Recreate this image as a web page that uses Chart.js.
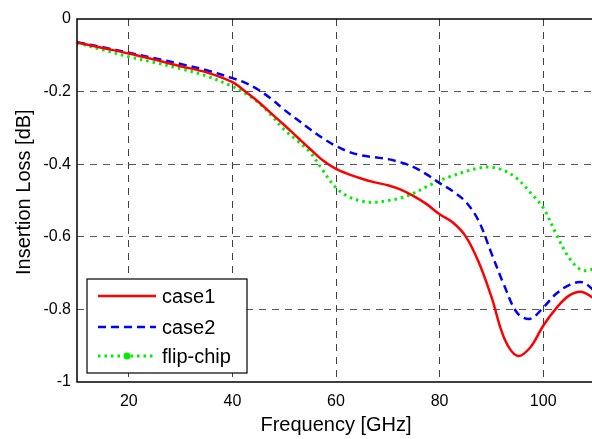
<!DOCTYPE html>
<html>
<head>
<meta charset="utf-8">
<script src="https://cdn.jsdelivr.net/npm/chart.js@4"></script>
<style>
  html, body { margin: 0; padding: 0; background: #fff; overflow: hidden; }
  #wrap { width: 600px; height: 439px; }
</style>
</head>
<body>
<div id="wrap"><canvas id="lossChart" width="600" height="439"></canvas></div>
<script>
// frequency grid [GHz]
const freq = [10, 15, 20, 25, 30, 35, 40, 42.5, 45, 47.5, 50, 52.5, 55, 57.5, 60, 62.5, 65, 67.5, 70, 72.5,
  75, 77.5, 80, 82.5, 85, 87.5, 90, 92.5, 95, 97.5, 100, 102.5, 105, 107.5, 110];

// insertion loss [dB]
const case1 = [-0.065, -0.08, -0.095, -0.112, -0.13, -0.147, -0.174, -0.2, -0.228, -0.26, -0.292, -0.325,
  -0.358, -0.39, -0.413, -0.428, -0.44, -0.45, -0.458, -0.47, -0.488, -0.51, -0.538, -0.56, -0.598, -0.668,
  -0.765, -0.88, -0.928, -0.905, -0.845, -0.797, -0.762, -0.752, -0.772];

const case2 = [-0.064, -0.078, -0.093, -0.108, -0.124, -0.141, -0.163, -0.176, -0.195, -0.22, -0.25, -0.277,
  -0.304, -0.329, -0.35, -0.366, -0.376, -0.381, -0.386, -0.395, -0.408, -0.428, -0.452, -0.474, -0.503,
  -0.555, -0.645, -0.735, -0.81, -0.826, -0.795, -0.757, -0.733, -0.725, -0.75];

const flipChip = [-0.066, -0.085, -0.104, -0.12, -0.137, -0.157, -0.186, -0.205, -0.23, -0.265, -0.305,
  -0.335, -0.367, -0.418, -0.465, -0.49, -0.502, -0.505, -0.5, -0.493, -0.48, -0.462, -0.445, -0.432,
  -0.42, -0.411, -0.408, -0.418, -0.44, -0.478, -0.52, -0.592, -0.658, -0.692, -0.688];

const seriesNames = ["case1", "case2", "flip-chip"];
const xTicks = [20, 40, 60, 80, 100];
const yTicks = [0, -0.2, -0.4, -0.6, -0.8, -1];

const FONT = "'Liberation Sans', Arial, Helvetica, sans-serif";

function pts(vals) {
    return freq.map((f, i) => ({ x: f, y: vals[i] }));
}

/* ===============================
   frame + legend box
=============================== */
const framePlugin = {
    id: "frame",
    afterDraw(chart) {
        const ctx = chart.ctx;
        const a = chart.chartArea;
        ctx.save();
        ctx.strokeStyle = "#000";
        ctx.lineWidth = 1.5;
        ctx.strokeRect(a.left, a.top, a.right - a.left, a.bottom - a.top);

        // legend
        const bx = 87, by = 279, bw = 160, bh = 94;
        ctx.fillStyle = "#fff";
        ctx.fillRect(bx, by, bw, bh);
        ctx.lineWidth = 1.2;
        ctx.strokeRect(bx, by, bw, bh);

        const rows = [296, 327, 356];
        chart.data.datasets.forEach((ds, i) => {
            const y = rows[i];
            ctx.beginPath();
            ctx.strokeStyle = ds.borderColor;
            ctx.lineWidth = ds.borderWidth;
            ctx.setLineDash(ds.borderDash || []);
            ctx.moveTo(98, y);
            ctx.lineTo(156, y);
            ctx.stroke();
            ctx.setLineDash([]);
            if (i === 2) {
                ctx.beginPath();
                ctx.fillStyle = ds.borderColor;
                ctx.arc(127, y, 3.5, 0, Math.PI * 2);
                ctx.fill();
            }
            ctx.fillStyle = "#000";
            ctx.font = "20px " + FONT;
            ctx.textBaseline = "middle";
            ctx.textAlign = "left";
            ctx.fillText(seriesNames[i], 162, y + 1);
        });
        ctx.restore();
    }
};

new Chart(document.getElementById("lossChart"), {
    type: "line",
    data: {
        datasets: [{
            label: seriesNames[0],
            data: pts(case1),
            borderColor: "#ff0000",
            borderWidth: 2.5,
            pointRadius: 0,
            tension: 0.35,
            fill: false
        }, {
            label: seriesNames[1],
            data: pts(case2),
            borderColor: "#0000ff",
            borderWidth: 2.5,
            borderDash: [8, 5],
            pointRadius: 0,
            tension: 0.35,
            fill: false
        }, {
            label: seriesNames[2],
            data: pts(flipChip),
            borderColor: "#00ee00",
            borderWidth: 3,
            borderDash: [2.5, 4],
            pointRadius: 0,
            tension: 0.35,
            fill: false
        }]
    },
    options: {
        responsive: false,
        animation: false,
        layout: { padding: { top: 19, right: 5, left: 0, bottom: 0 } },
        plugins: {
            legend: { display: false },
            tooltip: { enabled: false }
        },
        scales: {
            x: {
                type: "linear",
                min: 10,
                max: 110,
                afterBuildTicks: (s) => { s.ticks = xTicks.map(v => ({ value: v })); },
                afterFit: (s) => { s.height = 57; },
                grid: {
                    color: "rgba(0,0,0,0.75)",
                    lineWidth: 1,
                    drawTicks: false
                },
                border: { display: false, dash: [7, 6] },
                ticks: {
                    color: "#000",
                    font: { family: FONT, size: 16 },
                    padding: 10,
                    maxRotation: 0
                },
                title: {
                    display: true,
                    text: "Frequency [GHz]",
                    color: "#000",
                    font: { family: FONT, size: 20 },
                    padding: { top: 0, bottom: 2 }
                }
            },
            y: {
                min: -1,
                max: 0,
                afterBuildTicks: (s) => { s.ticks = yTicks.map(v => ({ value: v })); },
                afterFit: (s) => { s.width = 77; },
                grid: {
                    color: (c) => (c.tick && (c.tick.value === 0 || c.tick.value === -1)) ? "rgba(0,0,0,0)" : "rgba(0,0,0,0.65)",
                    lineWidth: 1,
                    drawTicks: false
                },
                border: { display: false, dash: [7, 6] },
                ticks: {
                    color: "#000",
                    font: { family: FONT, size: 16 },
                    padding: 6,
                    callback: (v) => String(Math.round(v * 10) / 10)
                },
                title: {
                    display: true,
                    text: "\u00a0\u00a0\u00a0Insertion Loss [dB]",
                    color: "#000",
                    font: { family: FONT, size: 20 },
                    padding: { top: 12, bottom: 0 }
                }
            }
        }
    },
    plugins: [framePlugin]
});
</script>
</body>
</html>
